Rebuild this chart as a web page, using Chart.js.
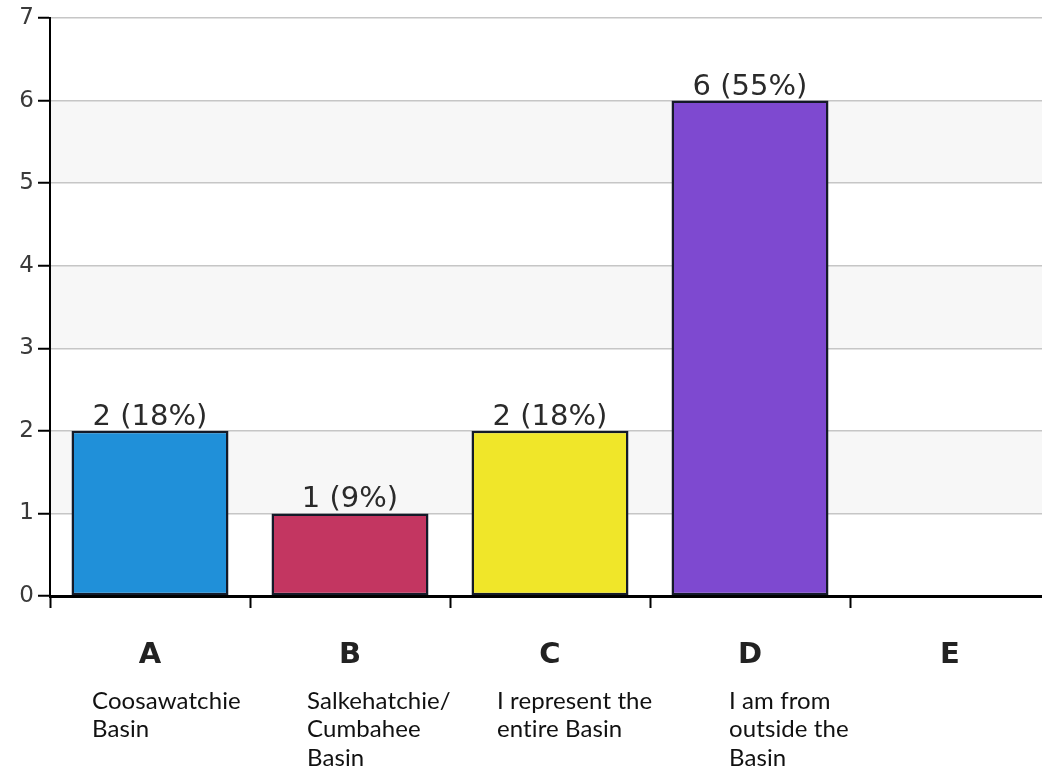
<!DOCTYPE html>
<html>
<head>
<meta charset="utf-8">
<script src="https://cdn.jsdelivr.net/npm/chart.js@4"></script>
<style>
  html, body { margin: 0; padding: 0; background: #fff; overflow: hidden; }
  #clip { width: 1042px; height: 778px; overflow: hidden; position: relative; }
  #wrap { width: 1050px; height: 778px; }
</style>
</head>
<body>
<div id="clip"><div id="wrap"><canvas id="chart"></canvas></div></div>
<script>
const categories = ['A', 'B', 'C', 'D', 'E'];
const descriptions = [
  ['Coosawatchie', 'Basin'],
  ['Salkehatchie/', 'Cumbahee', 'Basin'],
  ['I represent the', 'entire Basin'],
  ['I am from', 'outside the', 'Basin'],
  []
];
const responses = [2, 1, 2, 6, 0];
const barColors = ['#2090d9', '#c33661', '#f0e629', '#7e49d0', '#999999'];

// where each description starts, relative to its category centre
const descOffsets = [-58, -43, -53, -21, 0];

const total = responses.reduce((a, b) => a + b, 0);

const bandsPlugin = {
  id: 'bands',
  beforeDraw(chart) {
    const { ctx, chartArea, scales: { y } } = chart;
    ctx.save();
    ctx.fillStyle = '#f7f7f7';
    for (let v = 1; v < 7; v += 2) {
      const top = y.getPixelForValue(v + 1);
      const bot = y.getPixelForValue(v);
      ctx.fillRect(chartArea.left, top, chartArea.right - chartArea.left, bot - top);
    }
    ctx.restore();
  }
};

const valueLabels = {
  id: 'valueLabels',
  afterDatasetsDraw(chart) {
    const { ctx } = chart;
    const meta = chart.getDatasetMeta(0);
    ctx.save();
    ctx.font = '29px "DejaVu Sans"';
    ctx.fillStyle = '#2a2a2a';
    ctx.textAlign = 'center';
    ctx.textBaseline = 'bottom';
    meta.data.forEach((bar, i) => {
      const v = responses[i];
      if (!v) return;
      const pct = Math.round(v / total * 100);
      ctx.fillText(`${v} (${pct}%)`, bar.x, bar.y + 1);
    });
    ctx.restore();
  }
};

const descLabels = {
  id: 'descLabels',
  afterDraw(chart) {
    const { ctx, scales: { x } } = chart;
    ctx.save();
    ctx.font = '24px Lato';
    ctx.letterSpacing = '0.1px'; // keeps "ti" from turning into a ligature
    ctx.fillStyle = '#111';
    ctx.textAlign = 'left';
    ctx.textBaseline = 'middle';
    descriptions.forEach((lines, i) => {
      const left = x.getPixelForValue(i) + descOffsets[i];
      lines.forEach((line, j) => {
        ctx.fillText(line, left, 701 + j * 28.5);
      });
    });
    ctx.restore();
  }
};

new Chart(document.getElementById('chart'), {
  type: 'bar',
  data: {
    labels: categories,
    datasets: [{
      data: responses,
      backgroundColor: barColors,
      borderColor: '#141a28',
      borderWidth: 2.5,
      borderSkipped: false,
      barPercentage: 0.785,
      categoryPercentage: 1
    }]
  },
  options: {
    responsive: true,
    maintainAspectRatio: false,
    animation: false,
    layout: { padding: { top: 18, left: 0, right: 0, bottom: 0 } },
    plugins: { legend: { display: false }, tooltip: { enabled: false } },
    scales: {
      x: {
        afterFit: (s) => { s.height = 182; },
        grid: { drawOnChartArea: false, tickLength: 12, tickColor: '#000', tickWidth: 2 },
        border: { color: '#000', width: 3 },
        ticks: {
          padding: 30,
          color: '#222',
          font: { family: 'DejaVu Sans', size: 29, weight: 'bold' }
        }
      },
      y: {
        min: 0,
        max: 7,
        afterFit: (s) => { s.width = 50; },
        grid: { color: '#c6c6c6', lineWidth: 1.5, tickLength: 12, tickColor: '#000', tickWidth: 2 },
        border: { color: '#000', width: 2 },
        ticks: {
          stepSize: 1,
          padding: 4,
          color: '#3a3a3a',
          font: { family: 'DejaVu Sans', size: 23 }
        }
      }
    }
  },
  plugins: [bandsPlugin, valueLabels, descLabels]
});
</script>
</body>
</html>
